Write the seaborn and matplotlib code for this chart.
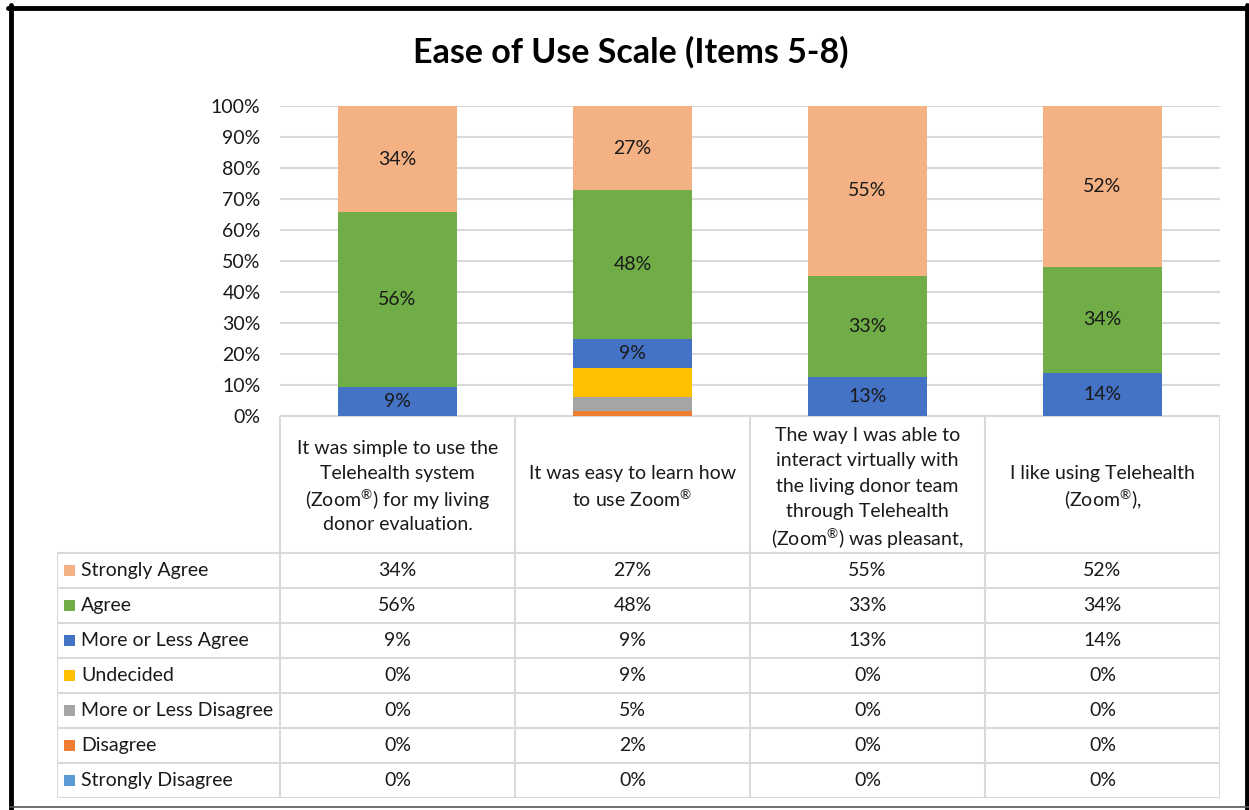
import matplotlib
matplotlib.use("Agg")
import matplotlib.pyplot as plt
import seaborn as sns
import pandas as pd
import numpy as np
from matplotlib.patches import Rectangle
from matplotlib.lines import Line2D

# ---------------- data ----------------
item_keys = ["Item 5", "Item 6", "Item 7", "Item 8"]
item_labels = [
    "It was simple to use the\nTelehealth system\n(Zoom$^{®}$) for my living\ndonor evaluation.",
    "It was easy to learn how\nto use Zoom$^{®}$",
    "The way I was able to\ninteract virtually with\nthe living donor team\nthrough Telehealth\n(Zoom$^{®}$) was pleasant,",
    "I like using Telehealth\n(Zoom$^{®}$),",
]
series_names = ["Strongly Agree", "Agree", "More or Less Agree", "Undecided",
                "More or Less Disagree", "Disagree", "Strongly Disagree"]
strongly_agree = [34.3, 27.2, 54.8, 51.8]
agree = [56.3, 48.0, 32.6, 34.4]
more_or_less_agree = [9.4, 9.2, 12.6, 13.8]
undecided = [0.0, 9.4, 0.0, 0.0]
more_or_less_disagree = [0.0, 4.6, 0.0, 0.0]
disagree = [0.0, 1.6, 0.0, 0.0]
strongly_disagree = [0.0, 0.0, 0.0, 0.0]
series_values = [strongly_agree, agree, more_or_less_agree, undecided,
                 more_or_less_disagree, disagree, strongly_disagree]
series_colors = ["#F4B183", "#70AD47", "#4472C4", "#FFC000", "#A5A5A5", "#ED7D31", "#5B9BD5"]
labeled_series = ["Strongly Agree", "Agree", "More or Less Agree"]
yticks = [0, 10, 20, 30, 40, 50, 60, 70, 80, 90, 100]
title = "Ease of Use Scale (Items 5-8)"

# ---------------- figure ----------------
W, H = 1249, 810
sns.set_theme(style="white")
plt.rcParams['font.family'] = ['Lato', 'DejaVu Sans']
plt.rcParams['mathtext.fontset'] = 'custom'
plt.rcParams['mathtext.rm'] = 'Lato'
plt.rcParams['mathtext.it'] = 'Lato'
plt.rcParams['mathtext.default'] = 'rm'
fig = plt.figure(figsize=(W / 100, H / 100), dpi=100)
fig.patch.set_facecolor("white")
FS = 14

def fbox(x0, y0, x1, y1):
    return [x0 / W, 1 - y1 / H, (x1 - x0) / W, (y1 - y0) / H]

ax = fig.add_axes(fbox(280, 106, 1220, 416))
text_color = "#1a1a1a"
grid_color = "#D9D9D9"

# stacked bars, bottom -> top in reverse legend order
bottom = np.zeros(len(item_keys))
for name, vals, col in reversed(list(zip(series_names, series_values, series_colors))):
    df = pd.DataFrame({"item": item_keys, "value": vals})
    sns.barplot(data=df, x="item", y="value", order=item_keys, color=col,
                width=0.51, bottom=bottom.copy(), saturation=1, linewidth=0,
                ax=ax, zorder=3)
    if name in labeled_series:
        for i, v in enumerate(vals):
            if v > 0:
                ax.text(i, bottom[i] + v / 2, f"{v:.0f}%", ha="center", va="center",
                        fontsize=FS, color=text_color, zorder=5)
    bottom = bottom + np.array(vals)

ax.set_xlim(-0.5, len(item_keys) - 0.5)
ax.set_ylim(0, 100)
ax.set_yticks(yticks)
ax.set_yticklabels([f"{t}%" for t in yticks], fontsize=FS, color=text_color)
ax.tick_params(axis="y", length=0, pad=14)
ax.set_xticks([])
ax.set_xlabel("")
ax.set_ylabel("")
ax.grid(axis="y", color=grid_color, linewidth=1.5, zorder=0)
for s in ax.spines.values():
    s.set_visible(False)

# ---------------- data table ----------------
tx0, tx1, ty0, ty1 = 57, 1220, 416, 798
colw = 235.0
axt = fig.add_axes(fbox(tx0, ty0, tx1, ty1))
axt.set_xlim(-0.5 - (280 - tx0) / colw, len(item_keys) - 0.5)
axt.set_ylim(ty1, ty0)
axt.axis("off")

def dx(px):
    return -0.5 + (px - 280) / colw

header_bottom = 553
row_h = 35
lw = 1.5
for i in range(len(item_keys) + 1):
    axt.plot([i - 0.5, i - 0.5], [ty0, ty1], color=grid_color, lw=lw, solid_capstyle="butt")
axt.plot([dx(tx0), dx(tx0)], [header_bottom, ty1], color=grid_color, lw=lw)
axt.plot([dx(280), len(item_keys) - 0.5], [ty0, ty0], color=grid_color, lw=lw)
for r in range(len(series_names) + 1):
    y = header_bottom + r * row_h
    axt.plot([dx(tx0), len(item_keys) - 0.5], [y, y], color=grid_color, lw=lw)

line_step = 25.5
for i, lab in enumerate(item_labels):
    lines = lab.split("\n")
    n = len(lines)
    for k, ln in enumerate(lines):
        yk = 485 + (k - (n - 1) / 2) * line_step
        axt.text(i, yk, ln, ha="center", va="center_baseline",
                 fontsize=FS, color=text_color)

for r, (name, vals, col) in enumerate(zip(series_names, series_values, series_colors)):
    yc = header_bottom + r * row_h + row_h / 2
    axt.add_patch(Rectangle((dx(64), yc - 5.5), dx(75) - dx(64), 11, color=col, lw=0))
    axt.text(dx(81), yc, name, ha="left", va="center", fontsize=FS, color=text_color)
    for i, v in enumerate(vals):
        axt.text(i, yc, f"{v:.0f}%", ha="center", va="center", fontsize=FS, color=text_color)

# ---------------- title ----------------
fig.text(631 / W, 1 - 52 / H, title, ha="center", va="center", fontsize=24.5,
         fontweight="bold", color="black")

# ---------------- outer border ----------------
def fl(xs, ys, **kw):
    fig.add_artist(Line2D([x / W for x in xs], [1 - y / H for y in ys],
                          transform=fig.transFigure, **kw))

fl([10.5, 10.5], [5, 810], color="black", lw=3.5)
fl([8, 1249], [7.5, 7.5], color="black", lw=3.5)
fl([1247, 1247], [5, 810], color="black", lw=3.5)
fl([10, 1249], [807, 807], color="#555555", lw=1.2)

fig.savefig("out.png", dpi=100, facecolor="white")
